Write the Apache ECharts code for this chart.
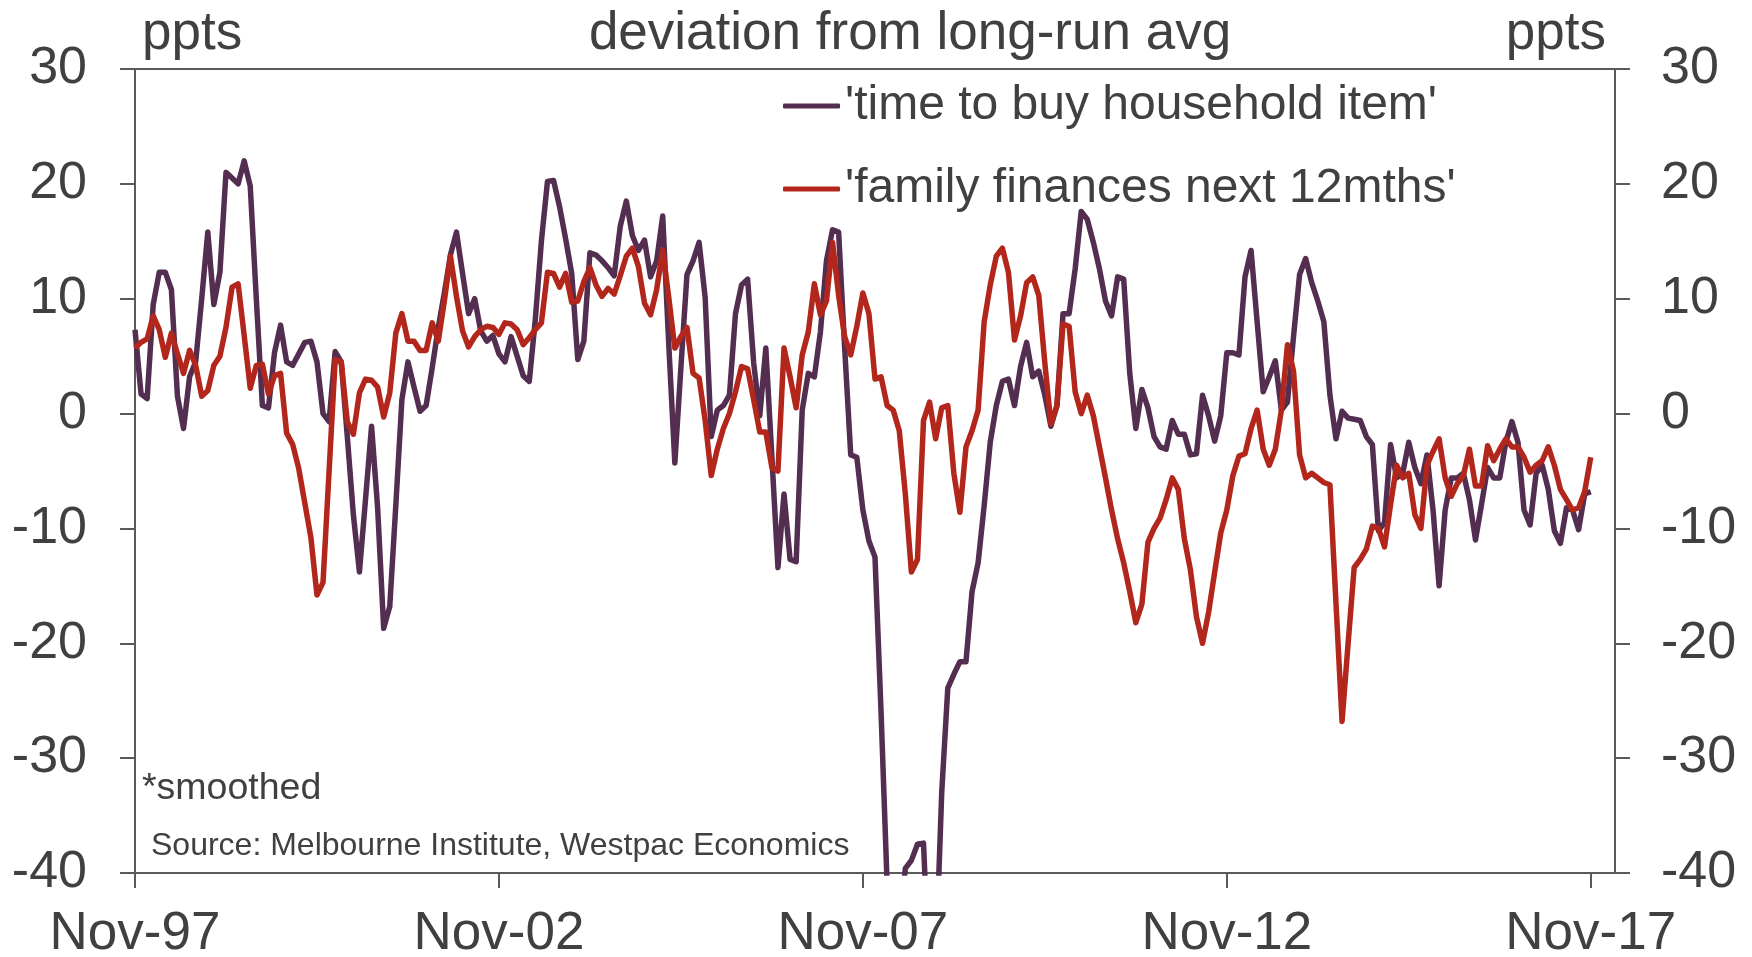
<!DOCTYPE html>
<html>
<head>
<meta charset="utf-8">
<script src="https://cdn.jsdelivr.net/npm/echarts@6/dist/echarts.min.js"></script>
<style>
html,body{margin:0;padding:0;background:#ffffff;}
#chart{width:1752px;height:957px;}
</style>
</head>
<body>
<div id="chart"></div>
<script>
// ---------- data ----------
const monthNames = ['Jan','Feb','Mar','Apr','May','Jun','Jul','Aug','Sep','Oct','Nov','Dec'];
// monthly categories Nov-97 .. Mar-18 (axis runs a few months past the last observation)
const categories = [];
for (let i = 0; i < 245; i++) {
  const k = 10 + i;
  const yy = 1997 + Math.floor(k / 12);
  categories.push(monthNames[k % 12] + '-' + String(yy % 100).padStart(2, '0'));
}
const tickLabels = ['Nov-97', 'Nov-02', 'Nov-07', 'Nov-12', 'Nov-17'];
const yMin = -40, yMax = 30, yStep = 10;

// 'time to buy household item' (Nov-97 .. Nov-17)
const timeToBuy = [
  7.3, 1.7, 1.3, 9.5, 12.3, 12.3, 10.8, 1.5, -1.3, 3.2,
  4.5, 10.0, 15.8, 9.5, 12.3, 21.0, 20.5, 20.0, 22.0, 19.8,
  10.0, 0.7, 0.5, 5.3, 7.7, 4.5, 4.2, 5.2, 6.2, 6.3,
  4.5, 0.0, -0.7, 5.4, 4.5, -2.0, -8.8, -13.8, -7.5, -1.1,
  -8.2, -18.7, -16.8, -8.0, 1.2, 4.5, 2.3, 0.2, 0.7, 4.0,
  7.5, 10.5, 13.8, 15.8, 12.2, 8.7, 10.0, 7.2, 6.3, 6.8,
  5.2, 4.5, 6.7, 5.0, 3.3, 2.8, 8.2, 15.0, 20.2, 20.3,
  18.0, 15.2, 12.2, 4.7, 6.3, 14.0, 13.8, 13.3, 12.7, 12.0,
  16.3, 18.5, 15.5, 14.2, 15.1, 11.9, 13.3, 17.2, 6.0, -4.3,
  4.0, 12.1, 13.3, 14.9, 10.1, -2.0, 0.3, 0.7, 1.6, 8.7,
  11.2, 11.7, 4.4, -0.2, 5.7, -3.8, -13.4, -7.0, -12.7, -12.9,
  0.3, 3.5, 3.2, 7.1, 13.3, 16.0, 15.8, 5.7, -3.6, -3.8,
  -8.4, -11.1, -12.5, -26.0, -41.0, -48.0, -45.0, -39.6, -38.9, -37.5,
  -37.4, -50.0, -48.0, -33.0, -23.9, -22.7, -21.6, -21.6, -15.5, -13.0,
  -8.0, -2.5, 0.7, 2.8, 3.0, 0.7, 4.1, 6.2, 3.2, 3.7,
  1.6, -1.1, 0.7, 8.7, 8.7, 12.6, 17.6, 16.9, 14.9, 12.6,
  9.8, 8.5, 11.9, 11.7, 3.5, -1.3, 2.1, 0.5, -2.0, -2.9,
  -3.1, -0.6, -1.8, -1.8, -3.6, -3.5, 1.6, -0.2, -2.4, -0.2,
  5.3, 5.3, 5.1, 11.9, 14.2, 8.0, 1.9, 3.2, 4.6, 0.3,
  1.0, 6.7, 12.1, 13.5, 11.4, 9.8, 8.0, 1.6, -2.2, 0.2,
  -0.4, -0.5, -0.6, -2.0, -2.7, -10.2, -9.5, -2.7, -5.6, -5.2,
  -2.5, -4.7, -6.1, -3.6, -8.4, -15.0, -8.4, -5.6, -5.6, -5.2,
  -7.5, -11.0, -7.9, -4.7, -5.6, -5.6, -2.5, -0.7, -2.5, -8.4,
  -9.7, -5.2, -4.5, -6.6, -10.2, -11.3, -8.2, -8.4, -10.1, -7.0,
  -6.8
];

// 'family finances next 12mths' (Nov-97 .. Nov-17)
const familyFinances = [
  5.7, 6.2, 6.5, 8.5, 7.3, 4.9, 7.0, 5.2, 3.5, 5.5,
  4.2, 1.5, 2.0, 4.2, 5.0, 7.5, 11.0, 11.3, 6.8, 2.2,
  4.2, 4.3, 1.7, 3.3, 3.5, -1.7, -2.7, -4.8, -7.8, -10.8,
  -15.8, -14.7, -5.0, 4.7, 4.5, -0.7, -1.8, 1.8, 3.0, 2.9,
  2.3, -0.3, 1.8, 7.0, 8.7, 6.3, 6.3, 5.5, 5.5, 7.9,
  6.3, 9.8, 13.7, 10.2, 7.2, 5.8, 6.7, 7.3, 7.6, 7.5,
  6.9, 7.9, 7.8, 7.3, 6.0, 6.6, 7.3, 7.9, 12.3, 12.2,
  11.0, 12.2, 9.7, 9.8, 11.5, 12.7, 11.2, 10.2, 10.9, 10.4,
  12.0, 13.7, 14.4, 12.8, 9.6, 8.6, 10.8, 14.2, 10.1, 5.7,
  6.7, 7.5, 3.5, 3.1, -0.6, -5.4, -3.1, -1.3, 0.0, 1.9,
  4.1, 3.9, 1.2, -1.6, -1.6, -4.7, -5.0, 5.7, 3.2, 0.5,
  5.1, 7.1, 11.3, 8.6, 9.8, 14.9, 10.3, 6.7, 5.1, 7.6,
  10.5, 8.7, 3.0, 3.2, 0.7, 0.3, -1.5, -7.0, -13.8, -12.7,
  -0.6, 1.0, -2.2, 0.5, 0.7, -5.2, -8.6, -2.9, -1.5, 0.3,
  8.0, 11.2, 13.7, 14.4, 12.3, 6.4, 8.5, 11.4, 11.9, 10.3,
  4.4, -0.9, 0.7, 7.8, 7.6, 1.9, 0.0, 1.6, -0.2, -2.9,
  -5.6, -8.4, -10.9, -13.0, -15.5, -18.2, -16.6, -11.2, -10.0, -9.1,
  -7.5, -5.6, -6.6, -10.9, -13.6, -17.7, -20.0, -17.3, -13.8, -10.4,
  -8.4, -5.4, -3.7, -3.5, -1.3, 0.3, -3.1, -4.5, -3.1, 0.3,
  6.0, 3.7, -3.6, -5.6, -5.2, -5.6, -6.0, -6.2, -16.5, -26.8,
  -20.0, -13.4, -12.7, -11.8, -9.8, -10.0, -11.6, -7.9, -4.5, -5.6,
  -5.2, -8.8, -10.0, -4.5, -3.3, -2.2, -5.6, -7.2, -6.1, -5.4,
  -3.1, -6.3, -6.3, -2.8, -4.1, -3.1, -2.2, -2.9, -2.9, -3.8,
  -5.1, -4.5, -4.1, -2.9, -4.5, -6.6, -7.5, -8.4, -8.2, -6.8,
  -3.8
];

// ---------- style ----------
const FONT = '"Liberation Sans", Arial, Helvetica, sans-serif';
const TEXT = '#404040';
const AXIS = '#5a5a5a';
const PURPLE = '#542e50';
const RED = '#b3261c';

const isTick = (idx) => tickLabels.indexOf(categories[idx]) >= 0;

function yAxisCfg(pos, margin) {
  return {
    type: 'value', position: pos, min: yMin, max: yMax, interval: yStep,
    axisLine: { show: true, onZero: false, lineStyle: { color: AXIS, width: 2 } },
    axisTick: { show: true, inside: false, length: 15, lineStyle: { color: AXIS, width: 2 } },
    axisLabel: { show: true, margin: margin, fontSize: 52, fontFamily: FONT, color: TEXT },
    splitLine: { show: false }
  };
}

const chart = echarts.init(document.getElementById('chart'), null, { renderer: 'canvas' });
chart.setOption({
  animation: false,
  backgroundColor: '#ffffff',
  grid: {
    left: 135, right: 137, top: 69, bottom: 84,
    containLabel: false, outerBoundsMode: 'none',
    show: true, borderColor: AXIS, borderWidth: 2, backgroundColor: 'transparent'
  },
  legend: {
    orient: 'vertical', left: 783, top: 81, padding: 0,
    itemWidth: 57, itemHeight: 5, itemGap: 33, icon: 'roundRect',
    textStyle: { fontSize: 48, lineHeight: 50, fontFamily: FONT, color: TEXT },
    data: ["'time to buy household item'", "'family finances next 12mths'"]
  },
  xAxis: {
    type: 'category', data: categories, boundaryGap: false,
    axisLine: { show: true, onZero: false, lineStyle: { color: AXIS, width: 2 } },
    axisTick: { show: true, interval: isTick, length: 15, lineStyle: { color: AXIS, width: 2 } },
    axisLabel: { interval: isTick, margin: 35, fontSize: 53, fontFamily: FONT, color: TEXT },
    splitLine: { show: false }
  },
  yAxis: [yAxisCfg('left', 48), yAxisCfg('right', 46)],
  series: [
    {
      name: "'time to buy household item'", type: 'line', data: timeToBuy,
      yAxisIndex: 0, showSymbol: false, symbol: 'none', clip: true,
      color: PURPLE, lineStyle: { color: PURPLE, width: 5.5, join: 'round' }
    },
    {
      name: "'family finances next 12mths'", type: 'line', data: familyFinances,
      yAxisIndex: 0, showSymbol: false, symbol: 'none', clip: true,
      color: RED, lineStyle: { color: RED, width: 5.5, join: 'round' }
    }
  ],
  graphic: [
    { type: 'text', x: 910, y: 34, silent: true,
      style: { text: 'deviation from long-run avg', font: '53px ' + FONT, fill: TEXT, align: 'center', verticalAlign: 'middle' } },
    { type: 'text', x: 142, y: 34, silent: true,
      style: { text: 'ppts', font: '53px ' + FONT, fill: TEXT, align: 'left', verticalAlign: 'middle' } },
    { type: 'text', x: 1606, y: 34, silent: true,
      style: { text: 'ppts', font: '53px ' + FONT, fill: TEXT, align: 'right', verticalAlign: 'middle' } },
    { type: 'text', x: 142, y: 789, silent: true,
      style: { text: '*smoothed', font: '37.5px ' + FONT, fill: TEXT, align: 'left', verticalAlign: 'middle' } },
    { type: 'text', x: 151, y: 846, silent: true,
      style: { text: 'Source: Melbourne Institute, Westpac Economics', font: '32px ' + FONT, fill: TEXT, align: 'left', verticalAlign: 'middle' } }
  ]
});
</script>
</body>
</html>
